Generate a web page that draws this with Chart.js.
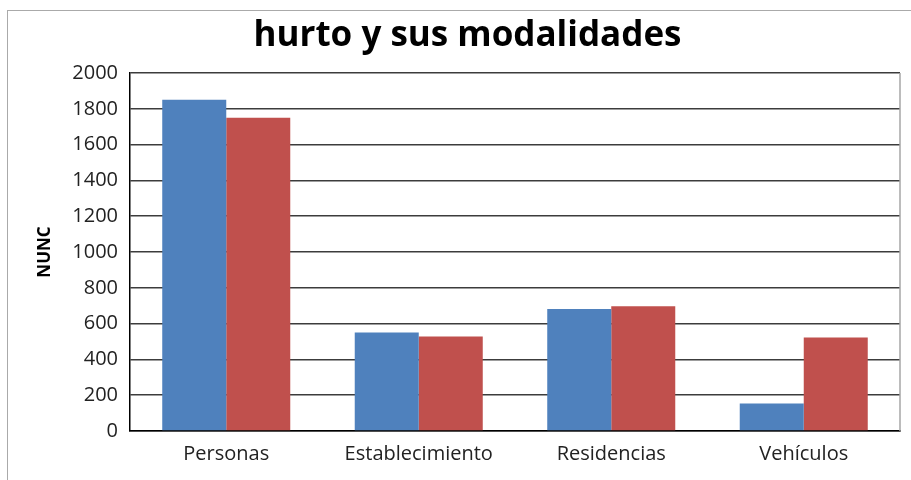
<!DOCTYPE html>
<html>
<head>
<meta charset="utf-8">
<script src="https://cdn.jsdelivr.net/npm/chart.js@4.4.1/dist/chart.umd.min.js"></script>
<style>
    html, body { margin: 0; padding: 0; background: #fff; }
    #wrap { position: relative; width: 911px; height: 480px; }
    #frame { position: absolute; left: 7px; top: 10px; right: 0; bottom: 0;
             border-top: 1px solid #aaa; border-left: 1px solid #aaa; }
    canvas { position: absolute; left: 0; top: 0; }
</style>
</head>
<body>
<div id="wrap">
    <div id="frame"></div>
    <canvas id="barChart" width="911" height="480"></canvas>
</div>
<script>
    // Values
    const categories = ["Personas", "Establecimiento", "Residencias", "Vehículos"];
    const seriesBlue = [1850, 550, 682, 153];
    const seriesRed = [1750, 528, 697, 523];
    const yTicks = [0, 200, 400, 600, 800, 1000, 1200, 1400, 1600, 1800, 2000];

    const font = "'Open Sans', 'DejaVu Sans', sans-serif";

    // Light grey right edge of the plot area
    const rightEdge = {
        id: 'rightEdge',
        afterDraw(chart) {
            const a = chart.chartArea;
            const c = chart.ctx;
            c.save();
            c.strokeStyle = '#a6a6a6';
            c.lineWidth = 1.5;
            c.beginPath();
            c.moveTo(a.right, a.top);
            c.lineTo(a.right, a.bottom);
            c.stroke();
            c.restore();
        }
    };

    const ctx = document.getElementById("barChart").getContext("2d");
    new Chart(ctx, {
        type: 'bar',
        data: {
            labels: categories,
            datasets: [{
                data: seriesBlue,
                backgroundColor: '#4f81bd',
                categoryPercentage: 0.665,
                barPercentage: 1
            }, {
                data: seriesRed,
                backgroundColor: '#c0504d',
                categoryPercentage: 0.665,
                barPercentage: 1
            }]
        },
        options: {
            responsive: false,
            animation: false,
            layout: { padding: { left: 35, right: 11, top: 0, bottom: 0 } },
            plugins: {
                legend: { display: false },
                tooltip: { enabled: false },
                title: {
                    display: true,
                    text: 'hurto y sus modalidades',
                    color: '#000',
                    font: { family: font, size: 35, weight: 'bold', lineHeight: 1.2 },
                    padding: { top: 15, bottom: 16 }
                }
            },
            scales: {
                x: {
                    grid: { display: false },
                    border: { color: '#000', width: 1.5 },
                    ticks: { color: '#222', padding: 3, font: { family: font, size: 20 } },
                    afterFit: s => { s.height = 49; }
                },
                y: {
                    min: 0,
                    max: 2000,
                    afterBuildTicks: s => { s.ticks = yTicks.map(v => ({ value: v })); },
                    grid: { color: '#3c3c3c', lineWidth: 1.5, drawTicks: false },
                    border: { color: '#000', width: 1.5 },
                    ticks: {
                        color: '#222',
                        padding: 12,
                        font: { family: font, size: 20 },
                        callback: v => String(v)
                    },
                    title: {
                        display: true,
                        text: 'NUNC',
                        color: '#000',
                        padding: 0,
                        font: { family: font, size: 17, weight: 'bold', lineHeight: 1.2 }
                    },
                    afterFit: s => { s.width = 95; }
                }
            }
        },
        plugins: [rightEdge]
    });
</script>
</body>
</html>
